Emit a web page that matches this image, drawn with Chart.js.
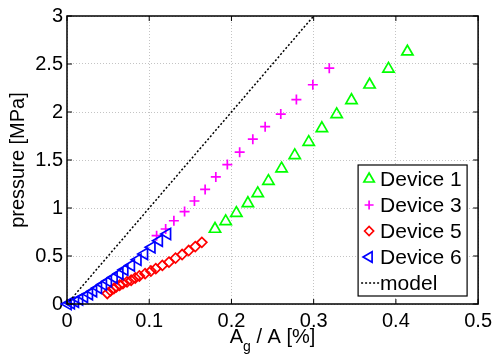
<!DOCTYPE html>
<html>
<head>
<meta charset="utf-8">
<script src="https://cdn.jsdelivr.net/npm/chart.js@4.4.1/dist/chart.umd.min.js"></script>
<style>
  body { margin: 0; background: #fff; }
  #wrap { width: 497px; height: 358px; }
</style>
</head>
<body>
<div id="wrap"><canvas id="pressureChart"></canvas></div>
<script>
// values (x = Ag / A [%], y = pressure [MPa])
const device1X = [0.180, 0.193, 0.206, 0.220, 0.232, 0.245, 0.261, 0.277, 0.294, 0.310, 0.328, 0.346, 0.368, 0.391, 0.414];
const device1Y = [0.781, 0.860, 0.946, 1.049, 1.152, 1.280, 1.410, 1.548, 1.686, 1.830, 1.975, 2.122, 2.284, 2.449, 2.628];

const device3X = [0.109, 0.120, 0.130, 0.143, 0.155, 0.168, 0.181, 0.195, 0.210, 0.226, 0.241, 0.260, 0.279, 0.299, 0.319];
const device3Y = [0.712, 0.781, 0.867, 0.963, 1.073, 1.194, 1.324, 1.452, 1.582, 1.717, 1.847, 1.978, 2.129, 2.284, 2.456];

const device5X = [0.049, 0.053, 0.057, 0.060, 0.064, 0.068, 0.073, 0.078, 0.083, 0.088, 0.095, 0.102, 0.108, 0.116, 0.124, 0.132, 0.140, 0.148, 0.156, 0.164];
const device5Y = [0.110, 0.137, 0.162, 0.178, 0.196, 0.213, 0.230, 0.247, 0.271, 0.292, 0.316, 0.343, 0.368, 0.402, 0.436, 0.478, 0.515, 0.557, 0.598, 0.642];

const device6X = [0.001, 0.005, 0.010, 0.015, 0.021, 0.027, 0.032, 0.038, 0.044, 0.050, 0.057, 0.064, 0.070, 0.078, 0.086, 0.094, 0.103, 0.112, 0.122];
const device6Y = [0.000, 0.010, 0.024, 0.048, 0.075, 0.103, 0.134, 0.168, 0.203, 0.237, 0.275, 0.316, 0.357, 0.402, 0.461, 0.522, 0.591, 0.660, 0.729];

const modelX = [0, 0.3];
const modelY = [0, 3];

const xTickLabels = ["0", "0.1", "0.2", "0.3", "0.4", "0.5"];
const yTickLabels = ["0", "0.5", "1", "1.5", "2", "2.5", "3"];
const legendLabels = ["Device 1", "Device 3", "Device 5", "Device 6", "model"];

const FONT = "'Liberation Sans', Arial, Helvetica, sans-serif";

function toPoints(xs, ys) {
  return xs.map((x, i) => ({ x: x, y: ys[i] }));
}

const markers = [
  { style: "triangle", rotation: 0, radius: 6.5, color: "#00ff00" },
  { style: "cross", rotation: 0, radius: 5, color: "#ff00ff" },
  { style: "rectRot", rotation: 0, radius: 5, color: "#ff0000" },
  { style: "triangle", rotation: -90, radius: 6.5, color: "#0000ff" },
];

function pointDataset(label, xs, ys, m, order) {
  return {
    label: label,
    data: toPoints(xs, ys),
    pointStyle: m.style,
    rotation: m.rotation,
    pointRadius: m.radius,
    pointHoverRadius: m.radius,
    borderColor: m.color,
    backgroundColor: "rgba(0,0,0,0)",
    borderWidth: 1.7,
    clip: false,
    order: order,
  };
}

// box, inward ticks, x label with subscript and the legend, MATLAB style
const matlabAxes = {
  id: "matlabAxes",
  afterDraw(chart) {
    const { ctx, chartArea: a, scales } = chart;
    ctx.save();

    ctx.strokeStyle = "#000";
    ctx.lineWidth = 1.5;
    ctx.strokeRect(a.left, a.top, a.right - a.left, a.bottom - a.top);

    const len = 5;
    ctx.lineWidth = 1;
    ctx.beginPath();
    scales.x.ticks.forEach((t) => {
      const px = scales.x.getPixelForValue(t.value);
      ctx.moveTo(px, a.bottom);
      ctx.lineTo(px, a.bottom - len);
      ctx.moveTo(px, a.top);
      ctx.lineTo(px, a.top + len);
    });
    scales.y.ticks.forEach((t) => {
      const py = scales.y.getPixelForValue(t.value);
      ctx.moveTo(a.left, py);
      ctx.lineTo(a.left + len, py);
      ctx.moveTo(a.right, py);
      ctx.lineTo(a.right - len, py);
    });
    ctx.stroke();

    // x axis title: A_g / A [%]
    ctx.fillStyle = "#000";
    ctx.textBaseline = "alphabetic";
    ctx.textAlign = "left";
    const big = "20px " + FONT;
    const small = "14px " + FONT;
    ctx.font = big;
    const wA = ctx.measureText("A").width;
    const wRest = ctx.measureText(" / A [%]").width;
    ctx.font = small;
    const wg = ctx.measureText("g").width;
    const cx = (a.left + a.right) / 2;
    let tx = cx - (wA + wg + wRest) / 2;
    const base = 343;
    ctx.font = big;
    ctx.fillText("A", tx, base);
    tx += wA;
    ctx.font = small;
    ctx.fillText("g", tx, base + 8);
    tx += wg;
    ctx.font = big;
    ctx.fillText(" / A [%]", tx, base);

    // legend
    const lx = a.right - 120, ly = a.bottom - 139, lw = 109, lh = 131;
    ctx.fillStyle = "#fff";
    ctx.fillRect(lx, ly, lw, lh);
    ctx.strokeStyle = "#000";
    ctx.lineWidth = 1.2;
    ctx.strokeRect(lx, ly, lw, lh);

    ctx.font = "21px " + FONT;
    ctx.textBaseline = "middle";
    legendLabels.forEach((label, i) => {
      const y = ly + 14 + i * 26;
      if (i < markers.length) {
        const m = markers[i];
        ctx.strokeStyle = m.color;
        ctx.fillStyle = "rgba(0,0,0,0)";
        ctx.lineWidth = 1.7;
        Chart.helpers.drawPoint(ctx, {
          pointStyle: m.style, rotation: m.rotation, radius: m.radius - 0.5, borderWidth: 1.7,
        }, lx + 11, y);
      } else {
        ctx.strokeStyle = "#000";
        ctx.lineWidth = 1.5;
        ctx.setLineDash([2, 2]);
        ctx.beginPath();
        ctx.moveTo(lx + 3, y);
        ctx.lineTo(lx + 21, y);
        ctx.stroke();
        ctx.setLineDash([]);
      }
      ctx.fillStyle = "#000";
      ctx.fillText(label, lx + 22, y + 1);
    });

    ctx.restore();
  },
};

const ctx = document.getElementById("pressureChart").getContext("2d");
new Chart(ctx, {
  type: "scatter",
  data: {
    datasets: [
      pointDataset(legendLabels[0], device1X, device1Y, markers[0], 4),
      pointDataset(legendLabels[1], device3X, device3Y, markers[1], 3),
      pointDataset(legendLabels[2], device5X, device5Y, markers[2], 2),
      pointDataset(legendLabels[3], device6X, device6Y, markers[3], 1),
      {
        label: legendLabels[4],
        data: toPoints(modelX, modelY),
        showLine: true,
        borderColor: "#000",
        borderWidth: 1.5,
        borderDash: [2, 2],
        pointRadius: 0,
        order: 0,
      },
    ],
  },
  options: {
    responsive: true,
    maintainAspectRatio: false,
    animation: false,
    layout: { padding: { top: 13, right: 15, left: 0, bottom: 0 } },
    scales: {
      x: {
        type: "linear",
        min: 0,
        max: 0.5,
        ticks: {
          stepSize: 0.1,
          color: "#000",
          font: { family: FONT, size: 20 },
          padding: 5,
          maxRotation: 0,
          callback: (v, i) => xTickLabels[i],
        },
        grid: { color: "#c4c4c4", lineWidth: 1, drawTicks: false, borderDash: [1, 2] },
        border: { display: false, dash: [1, 2] },
        afterFit: (s) => { s.height = 54; },
      },
      y: {
        type: "linear",
        min: 0,
        max: 3,
        ticks: {
          stepSize: 0.5,
          color: "#000",
          font: { family: FONT, size: 20 },
          padding: 4,
          callback: (v, i) => yTickLabels[i],
        },
        grid: { color: "#c4c4c4", lineWidth: 1, drawTicks: false, borderDash: [1, 2] },
        border: { display: false, dash: [1, 2] },
        title: {
          display: true,
          text: "pressure [MPa]",
          color: "#000",
          font: { family: FONT, size: 20 },
          padding: { top: 6, bottom: 0 },
        },
        afterFit: (s) => { s.width = 67; },
      },
    },
    plugins: {
      legend: { display: false },
      tooltip: { enabled: false },
    },
  },
  plugins: [matlabAxes],
});
</script>
</body>
</html>
